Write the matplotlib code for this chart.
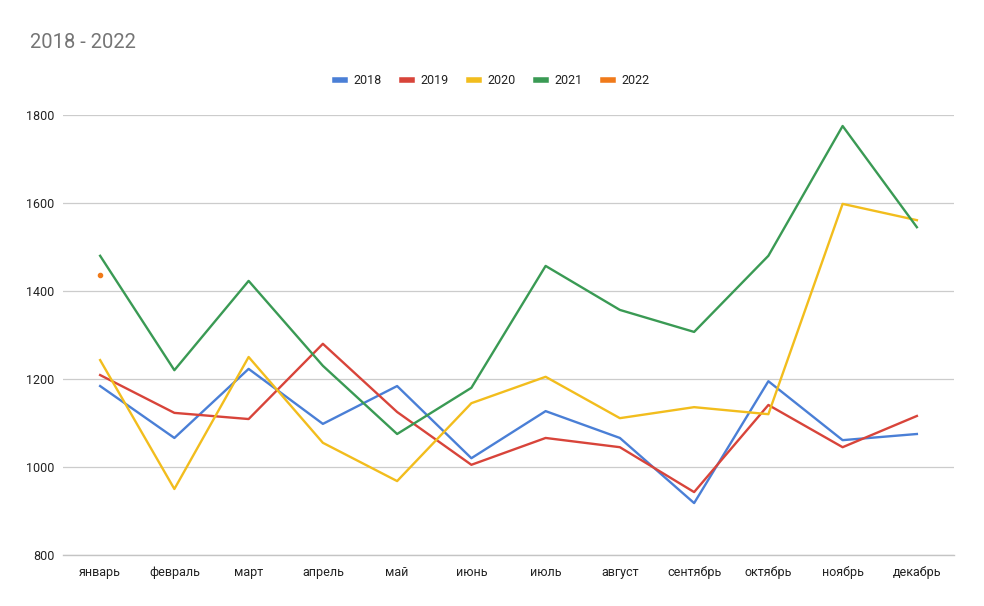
import matplotlib
matplotlib.use("Agg")
import matplotlib.pyplot as plt
from matplotlib.lines import Line2D

# ----------------------------- data -----------------------------

months = ["январь", "февраль", "март", "апрель", "май", "июнь",
          "июль", "август", "сентябрь", "октябрь", "ноябрь", "декабрь"]

y2018 = [1184, 1066, 1223, 1098, 1184, 1020, 1127, 1066, 918, 1195, 1061, 1075]
y2019 = [1209, 1123, 1109, 1280, 1125, 1005, 1066, 1045, 943, 1141, 1045, 1116]
y2020 = [1243, 950, 1250, 1055, 968, 1145, 1205, 1111, 1136, 1120, 1598, 1561]
y2021 = [1480, 1220, 1423, 1230, 1075, 1180, 1457, 1357, 1307, 1480, 1775, 1545]
y2022 = [1436]

series = [("2018", y2018, "#4a7fd6"),
          ("2019", y2019, "#d8443a"),
          ("2020", y2020, "#f2bd1d"),
          ("2021", y2021, "#3a9a54"),
          ("2022", y2022, "#f07a1a")]

yticks = [800, 1000, 1200, 1400, 1600, 1800]

# ----------------------------- plot -----------------------------

plt.rcParams["font.family"] = ["Roboto", "DejaVu Sans"]

W, H = 984, 606
fig = plt.figure(figsize=(W / 100, H / 100), dpi=100)
ax = fig.add_axes([63 / W, 1 - 555 / H, (954 - 63) / W, (555 - 115) / H])

x = list(range(len(months)))
for name, vals, col in series:
    xs = x[:len(vals)]
    if len(vals) == 1:
        ax.plot(xs, vals, "o", color=col, markersize=3.0, zorder=3)
    else:
        ax.plot(xs, vals, color=col, lw=1.7, zorder=3)

ax.set_xlim(-0.5, len(months) - 0.5)
ax.set_ylim(800, 1800)
ax.set_yticks(yticks)
ax.set_yticklabels([str(v) for v in yticks])
ax.set_xticks(x)
ax.set_xticklabels(months)

ax.grid(axis="y", color="#cccccc", lw=0.9)
ax.grid(axis="x", visible=False)
for s in ["top", "right", "left", "bottom"]:
    ax.spines[s].set_visible(False)
ax.axhline(800, color="#c4c4c4", lw=1.0, zorder=1, clip_on=False)
ax.tick_params(axis="both", length=0, labelsize=9, colors="#222222")
ax.tick_params(axis="y", pad=6)
ax.tick_params(axis="x", pad=8)

fig.text(30 / W, 1 - 42 / H, "2018 - 2022", fontsize=14.5, color="#757575",
         va="center", ha="left")

handles = [Line2D([0], [0], color=col, lw=4) for _, _, col in series]
labels = [name for name, _, _ in series]
fig.legend(handles, labels, loc="center", bbox_to_anchor=(492 / W, 1 - 81 / H),
           ncol=5, frameon=False, fontsize=9, handlelength=0.8,
           handletextpad=0.7, columnspacing=1.6, labelcolor="#222222")

fig.savefig("out.png", dpi=100)
